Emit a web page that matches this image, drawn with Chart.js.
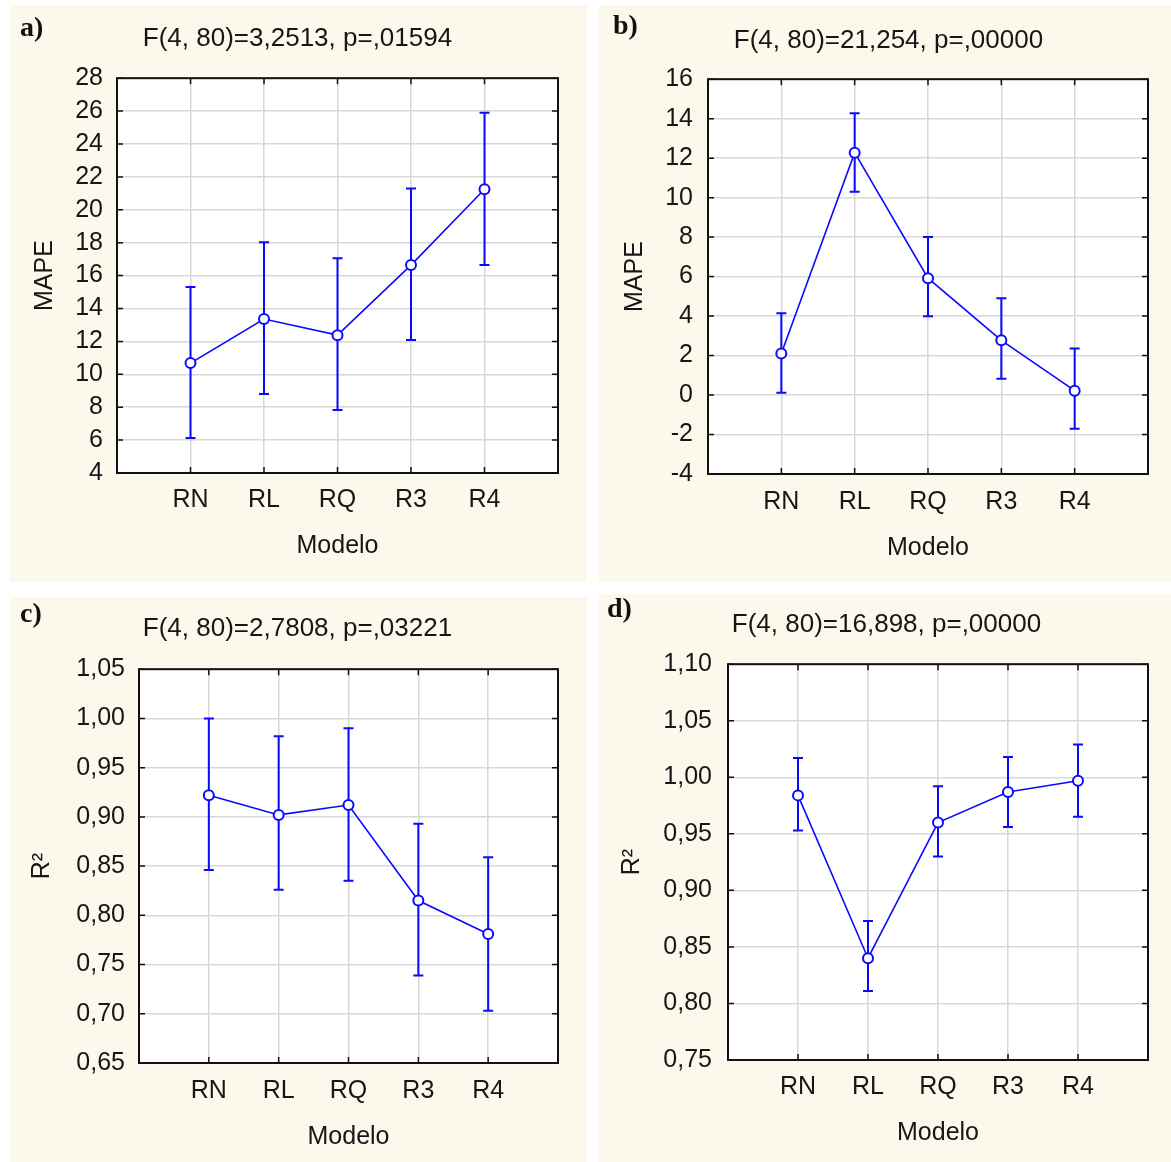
<!DOCTYPE html>
<html>
<head>
<meta charset="utf-8">
<script src="https://cdn.jsdelivr.net/npm/chart.js@4.4.1/dist/chart.umd.min.js"></script>
<style>
  html, body { margin: 0; padding: 0; background: #ffffff; }
  body { width: 1171px; height: 1162px; position: relative; overflow: hidden; }
  .panel { position: absolute; background: #fdf8ec; }
  .panel canvas { position: absolute; left: 0; top: 0; }
  .letter { position: absolute; font-family: "Liberation Serif", "Times New Roman", serif; font-weight: bold; font-size: 28px; line-height: 28px; color: #111; }
</style>
</head>
<body>
<div class="panel" id="pa" style="left:10px;top:5px;width:577px;height:577px;"><canvas id="ca" width="577" height="577"></canvas><div class="letter" style="left:10px;top:8px;">a)</div></div>
<div class="panel" id="pb" style="left:599px;top:5px;width:572px;height:577px;"><canvas id="cb" width="572" height="577"></canvas><div class="letter" style="left:14px;top:6px;">b)</div></div>
<div class="panel" id="pc" style="left:10px;top:597px;width:577px;height:565px;"><canvas id="cc" width="577" height="565"></canvas><div class="letter" style="left:10px;top:2px;">c)</div></div>
<div class="panel" id="pd" style="left:599px;top:594px;width:572px;height:568px;"><canvas id="cd" width="572" height="568"></canvas><div class="letter" style="left:8px;top:0px;">d)</div></div>
<script>
// ---------- data ----------
const categories = ['RN', 'RL', 'RQ', 'R3', 'R4'];

const titleA = 'F(4, 80)=3,2513, p=,01594';
const meanA = [10.68, 13.36, 12.38, 16.64, 21.25];
const lowA  = [6.13, 8.80, 7.83, 12.08, 16.64];
const highA = [15.30, 18.03, 17.06, 21.30, 25.90];

const titleB = 'F(4, 80)=21,254, p=,00000';
const meanB = [2.10, 12.28, 5.92, 2.77, 0.22];
const lowB  = [0.12, 10.30, 3.99, 0.83, -1.71];
const highB = [4.14, 14.27, 8.00, 4.90, 2.36];

const titleC = 'F(4, 80)=2,7808, p=,03221';
const meanC = [0.922, 0.902, 0.912, 0.815, 0.781];
const lowC  = [0.846, 0.826, 0.835, 0.739, 0.703];
const highC = [1.000, 0.982, 0.990, 0.893, 0.859];

const titleD = 'F(4, 80)=16,898, p=,00000';
const meanD = [0.984, 0.840, 0.960, 0.987, 0.997];
const lowD  = [0.953, 0.811, 0.930, 0.956, 0.965];
const highD = [1.017, 0.873, 0.992, 1.018, 1.029];

const yRangeA = [4, 28, 2];
const yRangeB = [-4, 16, 2];
const yRangeC = [0.65, 1.05, 0.05];
const yRangeD = [0.75, 1.10, 0.05];

const xTitle = 'Modelo';
const yTitleMAPE = 'MAPE';
const yTitleR2 = 'R²';

// ---------- styling ----------
const BLUE = '#0a0aff';
const TEXT = '#161616';
const GRID = '#d8d8d8';
const FONT = "'Liberation Sans', Arial, sans-serif";

const errorBarPlugin = {
  id: 'errorBars',
  beforeDatasetsDraw(chart) {
    const ctx = chart.ctx;
    const xs = chart.scales.x, ys = chart.scales.y;
    chart.data.datasets.forEach(ds => {
      if (!ds.errLow) return;
      ctx.save();
      ctx.strokeStyle = ds.borderColor;
      ctx.lineWidth = 2;
      ds.data.forEach((p, i) => {
        const x = xs.getPixelForValue(p.x);
        const y1 = ys.getPixelForValue(ds.errLow[i]);
        const y2 = ys.getPixelForValue(ds.errHigh[i]);
        ctx.beginPath();
        ctx.moveTo(x, y1); ctx.lineTo(x, y2);
        ctx.moveTo(x - 5, y1); ctx.lineTo(x + 5, y1);
        ctx.moveTo(x - 5, y2); ctx.lineTo(x + 5, y2);
        ctx.stroke();
      });
      ctx.restore();
    });
  }
};

const framePlugin = {
  id: 'frame',
  beforeDraw(chart) {
    const a = chart.chartArea, ctx = chart.ctx;
    ctx.save();
    ctx.fillStyle = '#ffffff';
    ctx.fillRect(a.left, a.top, a.right - a.left, a.bottom - a.top);
    ctx.restore();
  },
  afterDraw(chart) {
    const a = chart.chartArea, ctx = chart.ctx;
    const xs = chart.scales.x, ys = chart.scales.y;
    ctx.save();
    ctx.strokeStyle = '#111111';
    ctx.lineWidth = 1.5;
    ctx.beginPath();
    ys.ticks.forEach((t, i) => {
      const y = ys.getPixelForTick(i);
      ctx.moveTo(a.left, y); ctx.lineTo(a.left + 6, y);
      ctx.moveTo(a.right, y); ctx.lineTo(a.right - 6, y);
    });
    xs.ticks.forEach((t, i) => {
      const x = xs.getPixelForTick(i);
      ctx.moveTo(x, a.bottom); ctx.lineTo(x, a.bottom - 6);
      ctx.moveTo(x, a.top); ctx.lineTo(x, a.top + 6);
    });
    ctx.stroke();
    ctx.lineWidth = 2;
    ctx.strokeRect(a.left, a.top, a.right - a.left, a.bottom - a.top);
    ctx.restore();
  }
};

function makeChart(id, cfg) {
  const decimals = cfg.decimals;
  return new Chart(document.getElementById(id), {
    type: 'line',
    data: {
      datasets: [{
        data: categories.map((c, i) => ({ x: i, y: cfg.mean[i] })),
        errLow: cfg.low,
        errHigh: cfg.high,
        borderColor: BLUE,
        borderWidth: 1.6,
        pointRadius: 5,
        pointBorderWidth: 2,
        pointBackgroundColor: '#ffffff',
        pointBorderColor: BLUE,
        tension: 0,
        fill: false
      }]
    },
    options: {
      responsive: false,
      animation: false,
      events: [],
      layout: { padding: { left: cfg.padLeft, right: cfg.padRight, top: 0, bottom: cfg.padBottom } },
      plugins: {
        legend: { display: false },
        tooltip: { enabled: false },
        title: {
          display: true, text: cfg.title, color: TEXT,
          font: { family: FONT, size: 26, weight: 'normal', lineHeight: 1.2 },
          padding: { top: cfg.titleTop, bottom: cfg.titleBottom }
        }
      },
      scales: {
        x: {
          type: 'linear', min: -1, max: 5,
          afterBuildTicks: s => { s.ticks = categories.map((c, i) => ({ value: i })); },
          afterFit: s => { s.height = 90; },
          ticks: {
            callback: v => categories[v],
            color: TEXT, font: { family: FONT, size: 25, lineHeight: 1.2 },
            padding: cfg.xPad, maxRotation: 0, autoSkip: false
          },
          grid: { color: GRID, lineWidth: 1.5, drawTicks: false },
          border: { display: false },
          title: {
            display: true, text: xTitle, color: TEXT,
            font: { family: FONT, size: 25, lineHeight: 1.2 },
            padding: { top: 0, bottom: cfg.xTitlePad }
          }
        },
        y: {
          type: 'linear', min: cfg.yr[0], max: cfg.yr[1],
          afterFit: s => { s.width = cfg.yWidth; },
          ticks: {
            stepSize: cfg.yr[2],
            autoSkip: false,
            callback: v => v.toFixed(decimals).replace('.', ','),
            color: TEXT, font: { family: FONT, size: 25, lineHeight: 1.2 },
            padding: cfg.yPad
          },
          grid: { color: GRID, lineWidth: 1.5, drawTicks: false },
          border: { display: false },
          title: {
            display: true, text: cfg.yTitle, color: TEXT,
            font: { family: FONT, size: 25, lineHeight: 1.2 },
            padding: { top: cfg.yTitlePad, bottom: 0 }
          }
        }
      }
    },
    plugins: [framePlugin, errorBarPlugin]
  });
}

makeChart('ca', { mean: meanA, low: lowA, high: highA, title: titleA, yr: yRangeA, decimals: 0, yTitle: yTitleMAPE,
  padLeft: 27, padRight: 29, padBottom: 19, titleTop: 18, titleBottom: 24, xPad: 12, xTitlePad: 2, yWidth: 80, yPad: 14, yTitlePad: -7 });
makeChart('cb', { mean: meanB, low: lowB, high: highB, title: titleB, yr: yRangeB, decimals: 0, yTitle: yTitleMAPE,
  padLeft: 30, padRight: 23, padBottom: 18, titleTop: 20, titleBottom: 23, xPad: 13, xTitlePad: 1, yWidth: 79, yPad: 15, yTitlePad: -9 });
makeChart('cc', { mean: meanC, low: lowC, high: highC, title: titleC, yr: yRangeC, decimals: 2, yTitle: yTitleR2,
  padLeft: 27, padRight: 29, padBottom: 9, titleTop: 16, titleBottom: 25, xPad: 13, xTitlePad: 1, yWidth: 102, yPad: 14, yTitlePad: -10 });
makeChart('cd', { mean: meanD, low: lowD, high: highD, title: titleD, yr: yRangeD, decimals: 2, yTitle: yTitleR2,
  padLeft: 26, padRight: 23, padBottom: 12, titleTop: 15, titleBottom: 24, xPad: 12, xTitlePad: 2, yWidth: 103, yPad: 16, yTitlePad: -8 });
</script>
</body>
</html>
